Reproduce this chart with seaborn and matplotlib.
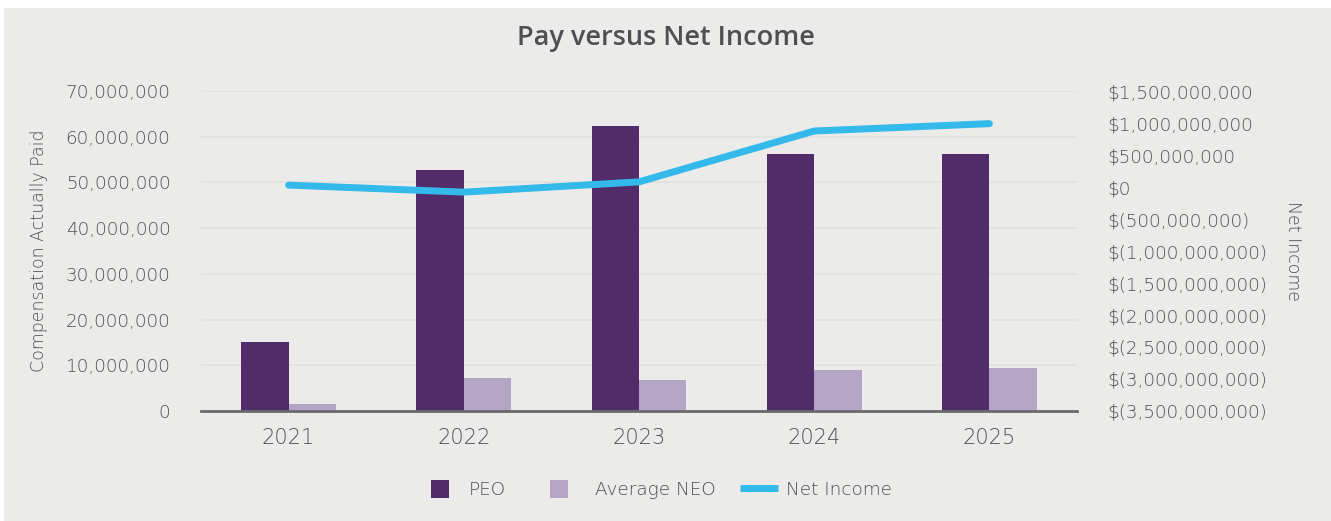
import matplotlib
matplotlib.use("Agg")
import matplotlib.pyplot as plt
import matplotlib.patches as mpatches
from matplotlib.lines import Line2D
from matplotlib.legend_handler import HandlerPatch
from matplotlib.ticker import FuncFormatter, FixedLocator
import seaborn as sns
import pandas as pd

years = ["2021", "2022", "2023", "2024", "2025"]
peo_cap = [15_000_000, 52_700_000, 62_300_000, 56_200_000, 56_200_000]
neo_cap = [1_500_000, 7_150_000, 6_700_000, 8_900_000, 9_350_000]
net_income = [30_000_000, -80_000_000, 80_000_000, 875_000_000, 990_000_000]

PEO_COLOR = "#522b6a"
NEO_COLOR = "#b4a5c7"
NI_COLOR = "#33b9ea"
BG = "#ebebea"
TXT = "#4f4f4f"
WEIGHT = "light"

sns.set_theme(style="white")
plt.rcParams["font.family"] = ["DejaVu Sans"]

W, H = 1331, 521
fig = plt.figure(figsize=(W / 100, H / 100), dpi=100)
fig.patch.set_facecolor("white")
fig.patches.append(mpatches.Rectangle((4 / W, 0), 1, 1 - 8 / H,
                                      transform=fig.transFigure,
                                      facecolor=BG, edgecolor="none", zorder=-10))

ax = fig.add_axes([201 / W, 1 - 411 / H, 876 / W, 320 / H])
ax.set_facecolor(BG)

df = pd.DataFrame({
    "Year": years * 2,
    "Value": peo_cap + neo_cap,
    "Group": ["PEO"] * len(years) + ["Average NEO"] * len(years),
})
sns.barplot(data=df, x="Year", y="Value", hue="Group",
            palette={"PEO": PEO_COLOR, "Average NEO": NEO_COLOR},
            width=0.54, gap=0, ax=ax, legend=False, saturation=1,
            edgecolor="none", zorder=3)

ax.set_xlim(-0.5, 4.5)
ax.set_ylim(0, 70_000_000)
ax.yaxis.set_major_locator(FixedLocator(range(0, 70_000_001, 10_000_000)))
ax.yaxis.set_major_formatter(FuncFormatter(lambda v, p: f"{int(v):,}"))
ax.grid(axis="y", color="#e1e1e0", linewidth=1.2, zorder=0)
ax.set_axisbelow(True)
for s in ["top", "right", "left"]:
    ax.spines[s].set_visible(False)
ax.spines["bottom"].set_color("#6a6a6a")
ax.spines["bottom"].set_linewidth(2)
ax.spines["bottom"].set_zorder(5)
ax.tick_params(axis="y", length=0, pad=22, labelsize=13.2, labelcolor=TXT)
ax.tick_params(axis="x", length=0, pad=12, labelsize=15, labelcolor=TXT)
ax.set_xlabel("")
ax.set_ylabel("Compensation Actually Paid", fontsize=12.5, color=TXT,
              labelpad=13, fontweight=WEIGHT)

ax2 = ax.twinx()
sns.lineplot(x=list(range(len(years))), y=net_income, color=NI_COLOR,
             linewidth=5, ax=ax2, zorder=4)
ax2.set_ylim(-3_500_000_000, 1_500_000_000)
ax2.yaxis.set_major_locator(FixedLocator(range(-3_500_000_000, 1_500_000_001, 500_000_000)))


def money(v, p):
    v = int(round(v))
    if v < 0:
        return f"$({-v:,})"
    return f"${v:,}"


ax2.yaxis.set_major_formatter(FuncFormatter(money))
for s in ["top", "right", "left", "bottom"]:
    ax2.spines[s].set_visible(False)
ax2.tick_params(axis="y", length=0, pad=22, labelsize=13.2, labelcolor=TXT)
ax2.set_ylabel("Net Income", fontsize=12.5, color=TXT, rotation=270,
               labelpad=25, fontweight=WEIGHT)
ax2.grid(False)

for t in ax.get_xticklabels() + ax.get_yticklabels() + ax2.get_yticklabels():
    t.set_fontweight(WEIGHT)

fig.text(0.5, 1 - 38 / H, "Pay versus Net Income", ha="center", va="center",
         fontsize=19.5, color="#4d4f53", fontweight="semibold", family="Open Sans")


class SquareHandler(HandlerPatch):
    """Legend key drawn as a left-aligned square."""

    def create_artists(self, legend, orig_handle, xdescent, ydescent,
                       width, height, fontsize, trans):
        side = 13
        y0 = -ydescent + (height - side) / 2
        r = mpatches.Rectangle((-xdescent, y0), side, side,
                               facecolor=orig_handle.get_facecolor(),
                               edgecolor="none", transform=trans)
        return [r]


legend_items = [
    (mpatches.Patch(facecolor=PEO_COLOR, label="PEO"), 431, 0.0),
    (mpatches.Patch(facecolor=NEO_COLOR, label="Average NEO"), 550, 0.4),
    (Line2D([0], [0], color=NI_COLOR, linewidth=5, solid_capstyle="butt",
            label="Net Income"), 740, 0.45),
]
for handle, x0, tpad in legend_items:
    leg = fig.legend(handles=[handle], loc="center left",
                     bbox_to_anchor=(x0 / W, 1 - 490 / H), frameon=False,
                     fontsize=13.2, handlelength=2.05, handleheight=1.0,
                     handletextpad=tpad, borderpad=0, borderaxespad=0,
                     handler_map={mpatches.Patch: SquareHandler()})
    for t in leg.get_texts():
        t.set_color(TXT)
        t.set_fontweight(WEIGHT)

fig.savefig("out.png", dpi=100, facecolor=fig.get_facecolor())
